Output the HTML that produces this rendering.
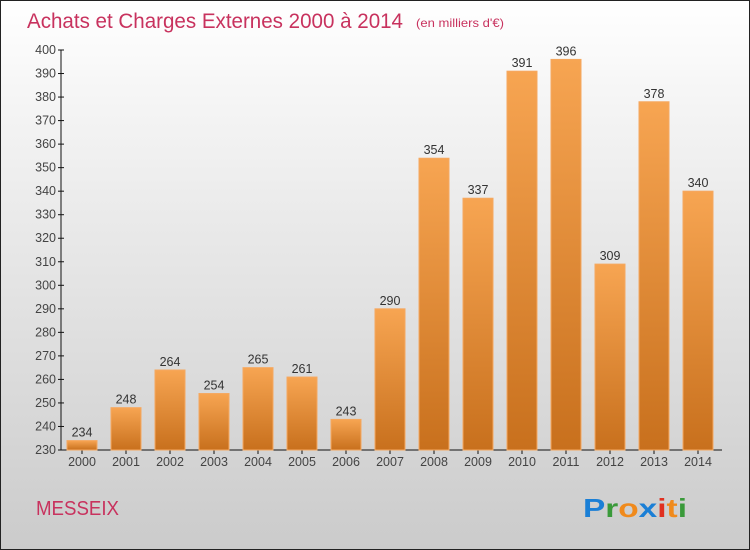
<!DOCTYPE html>
<html><head><meta charset="utf-8"><style>
body{margin:0}
#c{position:relative;width:748px;height:548px;border:1px solid #222;background:linear-gradient(#fff,#f4f4f4 20%,#cbcbcb);font-family:"Liberation Sans",sans-serif;overflow:hidden}
</style></head><body>
<div id="c">
<svg width="748" height="548" id="s" font-family="'Liberation Sans',sans-serif">
<defs><linearGradient id="g" x1="0" y1="0" x2="0" y2="1"><stop offset="0" stop-color="#f7a552"/><stop offset="1" stop-color="#c8701d"/></linearGradient></defs>
<text x="26" y="27" font-size="21" fill="#c8325e" textLength="376" lengthAdjust="spacingAndGlyphs">Achats et Charges Externes 2000 à 2014</text>
<text x="415" y="26" font-size="12" fill="#c8325e" textLength="88" lengthAdjust="spacingAndGlyphs">(en milliers d'€)</text>
<text x="35" y="514" font-size="20" fill="#c8325e" textLength="83" lengthAdjust="spacingAndGlyphs">MESSEIX</text>
<g font-size="26" font-weight="bold"><text x="582" y="516" textLength="104" lengthAdjust="spacingAndGlyphs"><tspan fill="#1a7fd6">P</tspan><tspan fill="#3a9a3a">r</tspan><tspan fill="#f08a1c">o</tspan><tspan fill="#1a7fd6">x</tspan><tspan fill="#e03020">i</tspan><tspan fill="#f08a1c">t</tspan><tspan fill="#3a9a3a">i</tspan></text></g>
<g id="ax"></g><g id="bars"></g>
</svg></div>
<script>
const years=["2000","2001","2002","2003","2004","2005","2006","2007","2008","2009","2010","2011","2012","2013","2014"];
const values=[234,248,264,254,265,261,243,290,354,337,391,396,309,378,340];
const ticks=[230,240,250,260,270,280,290,300,310,320,330,340,350,360,370,380,390,400];
const NS="http://www.w3.org/2000/svg";
const y0=449,y1=49,vmin=230,vmax=400;
const yS=v=>y0-(v-vmin)*(y0-y1)/(vmax-vmin);
const xS=i=>81+i*44;
function mk(t,a,p){const e=document.createElementNS(NS,t);for(const k in a)e.setAttribute(k,a[k]);p.appendChild(e);return e;}
const ax=document.getElementById('ax'),bg=document.getElementById('bars');
let l=mk('line',{x1:60,y1:y1,x2:60,y2:y0,stroke:'#111'},ax);


l=mk('line',{x1:60,y1:y0,x2:721,y2:y0,stroke:'#111'},ax);


ticks.forEach(t=>{const y=yS(t);
mk('line',{x1:57,y1:y,x2:63,y2:y,stroke:'#111'},ax);
const tx=mk('text',{x:55,y:y+4,'font-size':12.5,fill:'#444','text-anchor':'end'},ax);tx.textContent=t;

});
years.forEach((yr,i)=>{const x=xS(i),v=values[i],y=yS(v);
mk('line',{x1:x,y1:y0,x2:x,y2:y0+4,stroke:'#111'},ax);
const tx=mk('text',{x:x,y:y0+16,'font-size':12.5,fill:'#444','text-anchor':'middle'},ax);tx.textContent=yr;


const r=mk('rect',{x:x-15,y:y,width:30,height:y0-y,fill:'url(#g)',stroke:'#f5a860','stroke-width':1},bg);


const lb=mk('text',{x:x,y:y-4,'font-size':12.5,fill:'#333','text-anchor':'middle'},bg);lb.textContent=v;

});
</script>
</body></html>
